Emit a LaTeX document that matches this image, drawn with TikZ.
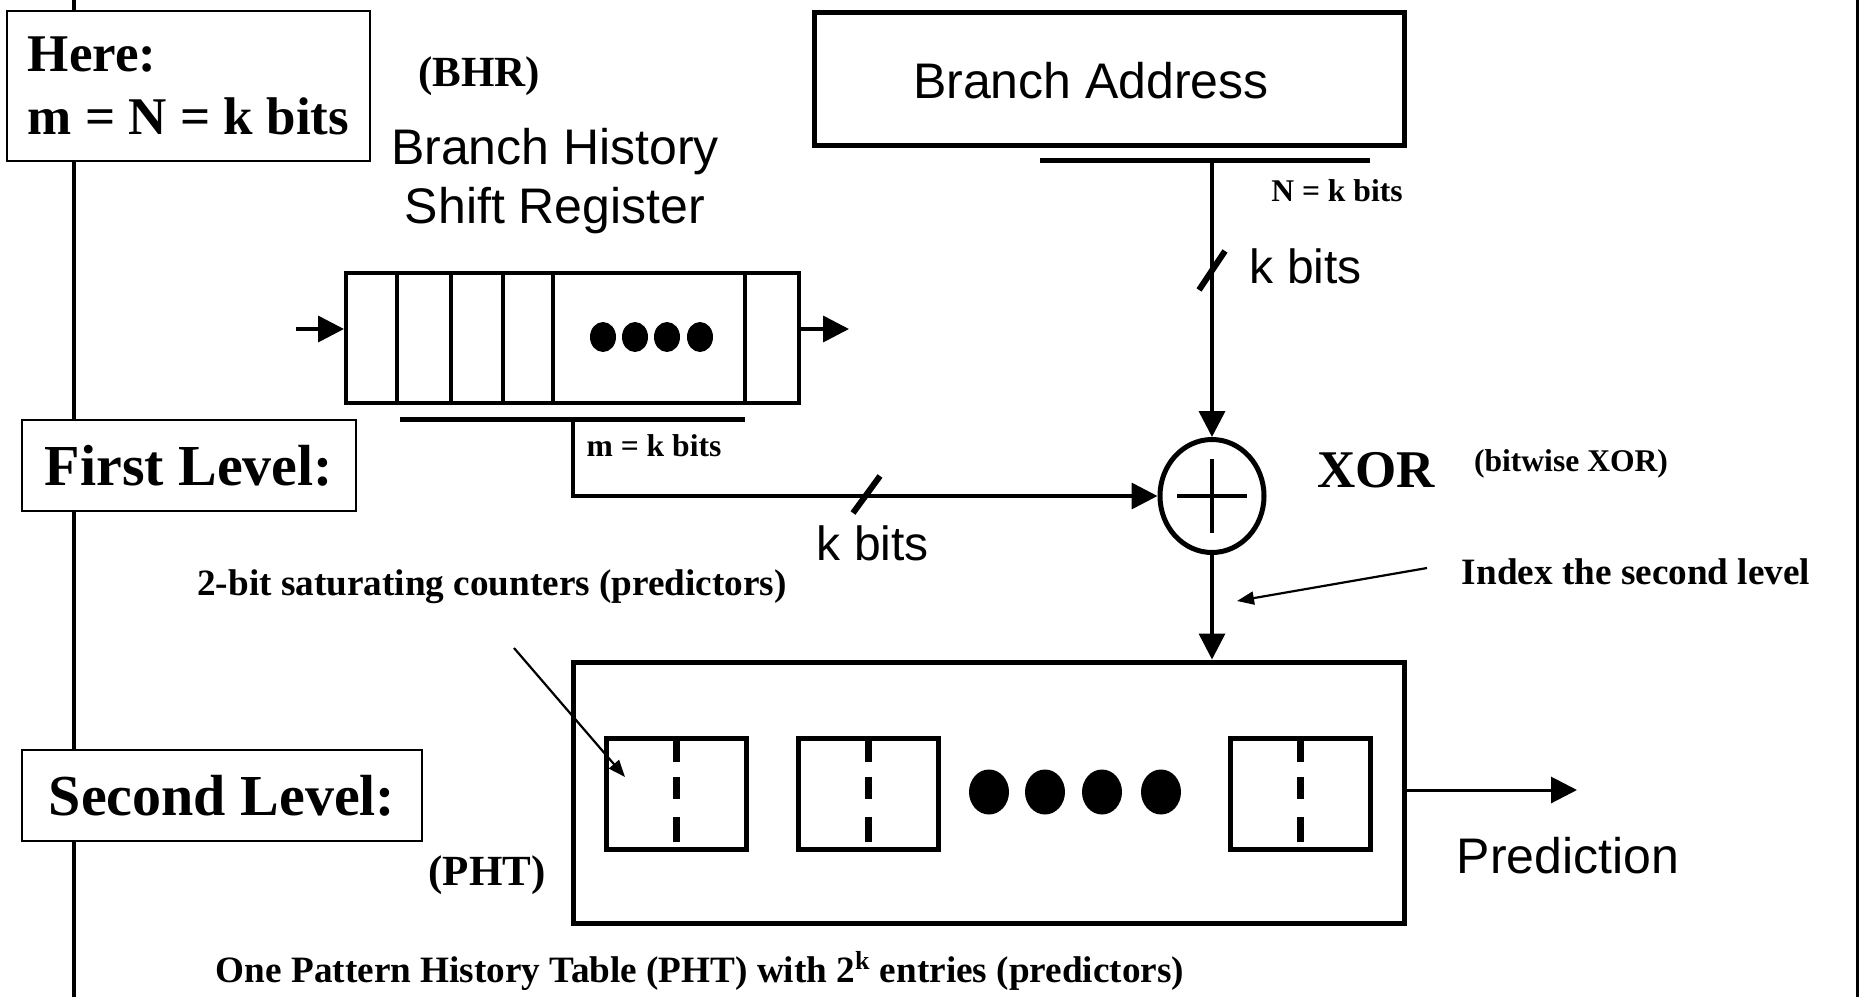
\documentclass[tikz,border=0pt]{standalone}
\usepackage{fontspec}
\setmainfont{Liberation Serif}
\newfontfamily\sansfont{Liberation Sans}
\usetikzlibrary{arrows.meta,shapes.geometric}

\begin{document}
\begin{tikzpicture}[x=0.5pt,y=-0.5pt,
  lblbox/.style={draw,fill=white,line width=1.25pt,inner sep=0pt,font=\bfseries\fontsize{29}{34}\selectfont},
  frame/.style={draw,line width=2.5pt,inner sep=0pt},
  wire/.style={line width=1.8pt},
  tip/.style={-{Triangle[length=13pt,width=13pt]}},
  pointer/.style={line width=1.1pt,-{Triangle[length=8.5pt,width=6.5pt]}},
  note/.style={inner sep=0pt,font=\bfseries\fontsize{18.6}{22}\selectfont},
  tiny/.style={inner sep=0pt,font=\bfseries\fontsize{15.8}{19}\selectfont},
  tag/.style={inner sep=0pt,font=\bfseries\fontsize{21.5}{26}\selectfont},
  sanslbl/.style={inner sep=0pt,font=\sansfont\fontsize{25}{29.5}\selectfont}]
  \useasboundingbox (0,0) rectangle (1860,997);
  \draw[line width=2pt] (73.5,0) -- (73.5,997);
  \draw[line width=1.5pt] (1857,0) -- (1857,997);

  \node[lblbox,minimum width=181.5pt,minimum height=75pt,align=left,font=\bfseries\fontsize{26.5}{31.5}\selectfont] (here) at (188.5,86) {Here:\\m = N = k bits};
  \node[lblbox,minimum width=167pt,minimum height=45.5pt] (first) at (189,465.5) {First Level:};
  \node[lblbox,minimum width=200pt,minimum height=45.5pt] (second) at (222,795.5) {Second Level:};

  \node[tag] (bhrtag) at (479,76) {(BHR)};
  \node[sanslbl,align=center] (bhrname) at (555,181) {Branch History\\Shift Register};
  \node[draw,line width=2pt,inner sep=0pt,minimum width=226.5pt,minimum height=65pt] (bhr) at (572.5,338) {};
  \foreach \x in {397,451,503,553,745} \draw[line width=2pt] (\x,273) -- (\x,403);
  \foreach \x in {603,635,667,700} \fill (\x,337) ellipse (6.5pt and 7.5pt);
  \coordinate (bhrin) at (296,329);
  \coordinate (bhrout) at (849,329);
  \draw[wire,tip] (bhrin) -- (bhrin -| bhr.west);
  \draw[wire,tip] (bhrout -| bhr.east) -- (bhrout);
  \draw[line width=2.5pt] (400,419) -- (745,419);
  \coordinate (bhrtap) at (573,419);
  \node[tiny] (mbits) at (654,446) {m = k bits};

  \node[frame,minimum width=295pt,minimum height=66.5pt] (addr) at (1109,78.5) {};
  \node[sanslbl] (addrtxt) at (1091,81) {Branch Address};
  \draw[line width=2.5pt] (1040,160) -- (1370,160);
  \coordinate (addrtap) at (1212,160);
  \node[tiny] (nbits) at (1337,191) {N = k bits};

  \node[draw,ellipse,line width=2.5pt,inner sep=0pt,minimum width=52pt,minimum height=56.5pt] (xor) at (1212,496) {};
  \draw[line width=2pt] (1177,496) -- (1247,496) (1212,459) -- (1212,533);
  \node[inner sep=0pt,font=\bfseries\fontsize{26.5}{31}\selectfont] (xorlbl) at (1376,470) {XOR};
  \node[tiny] (bitwise) at (1571,464) {(bitwise XOR)};

  \draw[wire,tip] (addrtap) -- (xor.north);
  \draw[line width=3pt] (1199,290) -- (1225,251);
  \node[sanslbl,font=\sansfont\fontsize{24}{28}\selectfont] (kbitsa) at (1306,266) {k bits};
  \draw[wire,tip] (bhrtap) |- (xor.west);
  \draw[line width=3pt] (853,513) -- (880,476);
  \node[sanslbl,font=\sansfont\fontsize{24}{28}\selectfont] (kbitsb) at (873,543) {k bits};

  \node[frame,minimum width=415.5pt,minimum height=130.5pt] (pht) at (988.5,792.5) {};
  \draw[wire,tip] (xor.south) -- (xor.south |- pht.north);
  \foreach \n/\x in {c1/676,c2/868,c3/1300} {
    \node[frame,minimum width=70pt,minimum height=55.5pt] (\n) at (\x,793.5) {};
    \foreach \a/\b in {740/762,777/799,817/842}
      \draw[line width=3.5pt] (\x,\a) -- (\x,\b);
  }
  \foreach \x in {989,1045,1102,1161} \fill (\x,792) ellipse (10pt and 11.25pt);

  \coordinate (pred) at (1577,790);
  \draw[line width=1.5pt,tip] (pht.east |- pred) -- (pred);
  \node[sanslbl] (predlbl) at (1568,856) {Prediction};
  \node[tag] (phttag) at (487,875) {(PHT)};
  \node[note] (caption) at (700,971) {One Pattern History Table (PHT) with 2\textsuperscript{k} entries (predictors)};

  \node[note] (ctrlbl) at (492,587) {2-bit saturating counters (predictors)};
  \coordinate (ctrfrom) at (514,648);
  \coordinate (ctrtip) at (625,777);
  \draw[pointer] (ctrfrom) -- (ctrtip);
  \node[note] (idx) at (1636,572) {Index the second level};
  \coordinate (idxfrom) at (1427,568);
  \coordinate (idxtip) at (1237,601);
  \draw[pointer] (idxfrom) -- (idxtip);
\end{tikzpicture}
\end{document}
